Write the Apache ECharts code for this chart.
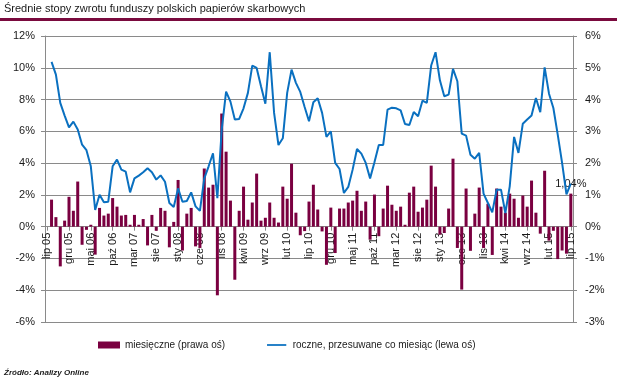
<!DOCTYPE html>
<html><head><meta charset="utf-8">
<script src="https://cdn.jsdelivr.net/npm/echarts@6/dist/echarts.min.js"></script>
<style>html,body{margin:0;padding:0;background:#fff}#c{width:617px;height:382px}</style>
</head><body><div id="c"></div>
<script>
const titleText = 'Średnie stopy zwrotu funduszy polskich papierów skarbowych';
const sourceText = 'Źródło: Analizy Online';
const monthlyName = 'miesięczne (prawa oś)';
const annualName = 'roczne, przesuwane co miesiąc (lewa oś)';
const lastLabel = '1,04%';

const monthNames = ['sty','lut','mar','kwi','maj','cze','lip','sie','wrz','paź','lis','gru'];
const startYear = 2005, startMonth = 6;
const categoryCount = 121;
const categories = [];
for (let k = 0; k < categoryCount; k++) {
  const m = (startMonth + k) % 12;
  const y = startYear + Math.floor((startMonth + k) / 12);
  categories.push(monthNames[m] + ' ' + String(y % 100).padStart(2, '0'));
}

const monthly = [null,
0.85,0.30,-1.25,0.19,0.94,0.50,1.42,-0.57,-0.10,0.06,
-0.88,0.59,0.35,0.41,0.90,0.63,0.35,0.37,0.06,0.37,
0.06,0.24,-0.59,0.37,-0.13,0.59,0.50,-0.65,0.15,1.47,
-0.75,0.41,0.59,-0.62,-0.67,1.83,1.23,1.32,-2.16,3.56,
2.36,0.82,-1.67,0.50,1.26,0.22,0.76,1.67,0.19,0.28,
0.76,0.28,0.13,1.26,0.88,1.98,0.44,-0.27,-0.14,0.79,
1.32,0.54,-0.15,-1.20,0.60,-0.83,0.57,0.57,0.76,0.82,
1.13,0.50,0.79,-0.41,1.01,-0.30,0.57,1.29,0.69,0.50,
0.63,0.06,1.07,1.26,0.47,0.60,0.85,1.92,1.26,-0.25,
-0.20,0.57,2.14,-0.67,-1.98,1.20,-0.76,0.41,1.23,-0.67,
0.72,-0.89,1.20,0.63,0.44,1.04,0.88,0.28,0.98,0.63,
1.45,0.44,-0.22,1.76,-0.44,-0.13,-1.02,-0.75,-0.85,1.04];

const annual = [null,
10.37,9.57,7.79,6.99,6.25,6.61,6.11,5.16,4.81,3.80,
1.05,2.01,1.53,1.57,3.80,4.22,3.59,3.46,2.16,3.04,
3.21,3.42,3.67,3.42,2.96,3.23,2.83,1.49,1.24,2.41,
1.57,1.62,2.16,1.28,0.99,3.04,3.80,4.62,1.80,6.11,
8.50,7.87,6.74,6.78,7.45,8.42,10.14,9.99,8.84,7.74,
10.98,7.16,5.14,5.56,8.42,9.88,9.05,8.48,7.53,6.63,
7.83,8.08,7.16,5.65,6.00,4.01,3.63,2.12,2.50,3.59,
4.89,4.60,4.01,3.04,4.05,5.14,5.14,7.37,7.49,7.45,
7.32,6.46,6.40,7.22,6.95,7.93,7.79,10.14,10.98,9.21,
8.21,8.31,9.93,9.15,5.86,5.73,4.53,4.28,4.64,2.08,
1.49,0.90,2.33,2.33,0.86,2.54,5.65,4.64,6.48,6.74,
6.99,8.10,7.20,10.03,8.37,7.47,5.79,4.01,2.04,2.71];

const FONT = "'Liberation Sans',sans-serif";
const TXT = '#1a1a1a';
const GRID = '#8a8a8a';
const MAROON = '#7a0040';
const BLUE = '#0a70c0';

const chart = echarts.init(document.getElementById('c'), null, {renderer: 'canvas'});
chart.setOption({
  animation: false,
  textStyle: {fontFamily: FONT},
  graphic: [
    {type: 'text', left: 4, top: 3, style: {text: titleText, font: "11px " + FONT, fill: TXT}},
    {type: 'rect', shape: {x: 0, y: 18, width: 617, height: 3}, style: {fill: '#7a0a3e'}},
    {type: 'text', left: 4, top: 369, style: {text: sourceText, font: "italic bold 8px " + FONT, fill: TXT}}
  ],
  legend: {
    left: 93, top: 335, itemWidth: 22, itemHeight: 7, itemGap: 42,
    textStyle: {fontSize: 10, color: TXT, fontFamily: FONT},
    data: [
      {name: monthlyName, icon: 'rect'},
      {name: annualName, icon: 'path://M0,0 L0,0 M0,3 L22,3 L22,5 L0,5 Z M22,8 L22,8'}
    ]
  },
  grid: {left: 45, right: 44, top: 36, bottom: 60},
  xAxis: {
    type: 'category', data: categories, boundaryGap: true, position: 'bottom',
    offset: -95.3,
    axisLine: {onZero: false, lineStyle: {color: GRID}},
    axisTick: {show: true, interval: 4, alignWithLabel: true, length: 4, lineStyle: {color: GRID}},
    axisLabel: {interval: 4, rotate: 90, margin: 6, fontSize: 11, color: TXT, fontFamily: FONT}
  },
  yAxis: [
    {type: 'value', min: -6, max: 12, interval: 2, position: 'left',
     axisLine: {show: true, lineStyle: {color: GRID}},
     axisTick: {show: true, length: 4, lineStyle: {color: GRID}},
     axisLabel: {formatter: '{value}%', fontSize: 11, color: TXT, margin: 10, fontFamily: FONT},
     splitLine: {show: true, lineStyle: {color: GRID, width: 1}}},
    {type: 'value', min: -3, max: 6, interval: 1, position: 'right',
     axisLine: {show: true, lineStyle: {color: GRID}},
     axisTick: {show: true, length: 4, lineStyle: {color: GRID}},
     axisLabel: {formatter: '{value}%', fontSize: 11, color: TXT, margin: 12, fontFamily: FONT},
     splitLine: {show: false}}
  ],
  series: [
    {name: monthlyName, type: 'bar', yAxisIndex: 1, barWidth: 3,
     itemStyle: {color: MAROON},
     data: monthly.map((v, i) => i === monthly.length - 1 ?
       {value: v, label: {show: true, position: 'top', distance: 4, formatter: lastLabel, fontSize: 11, color: TXT, fontFamily: FONT}} : v)},
    {name: annualName, type: 'line', yAxisIndex: 0, symbol: 'none', smooth: false,
     lineStyle: {color: BLUE, width: 2}, itemStyle: {color: BLUE},
     data: annual}
  ]
});
</script></body></html>
